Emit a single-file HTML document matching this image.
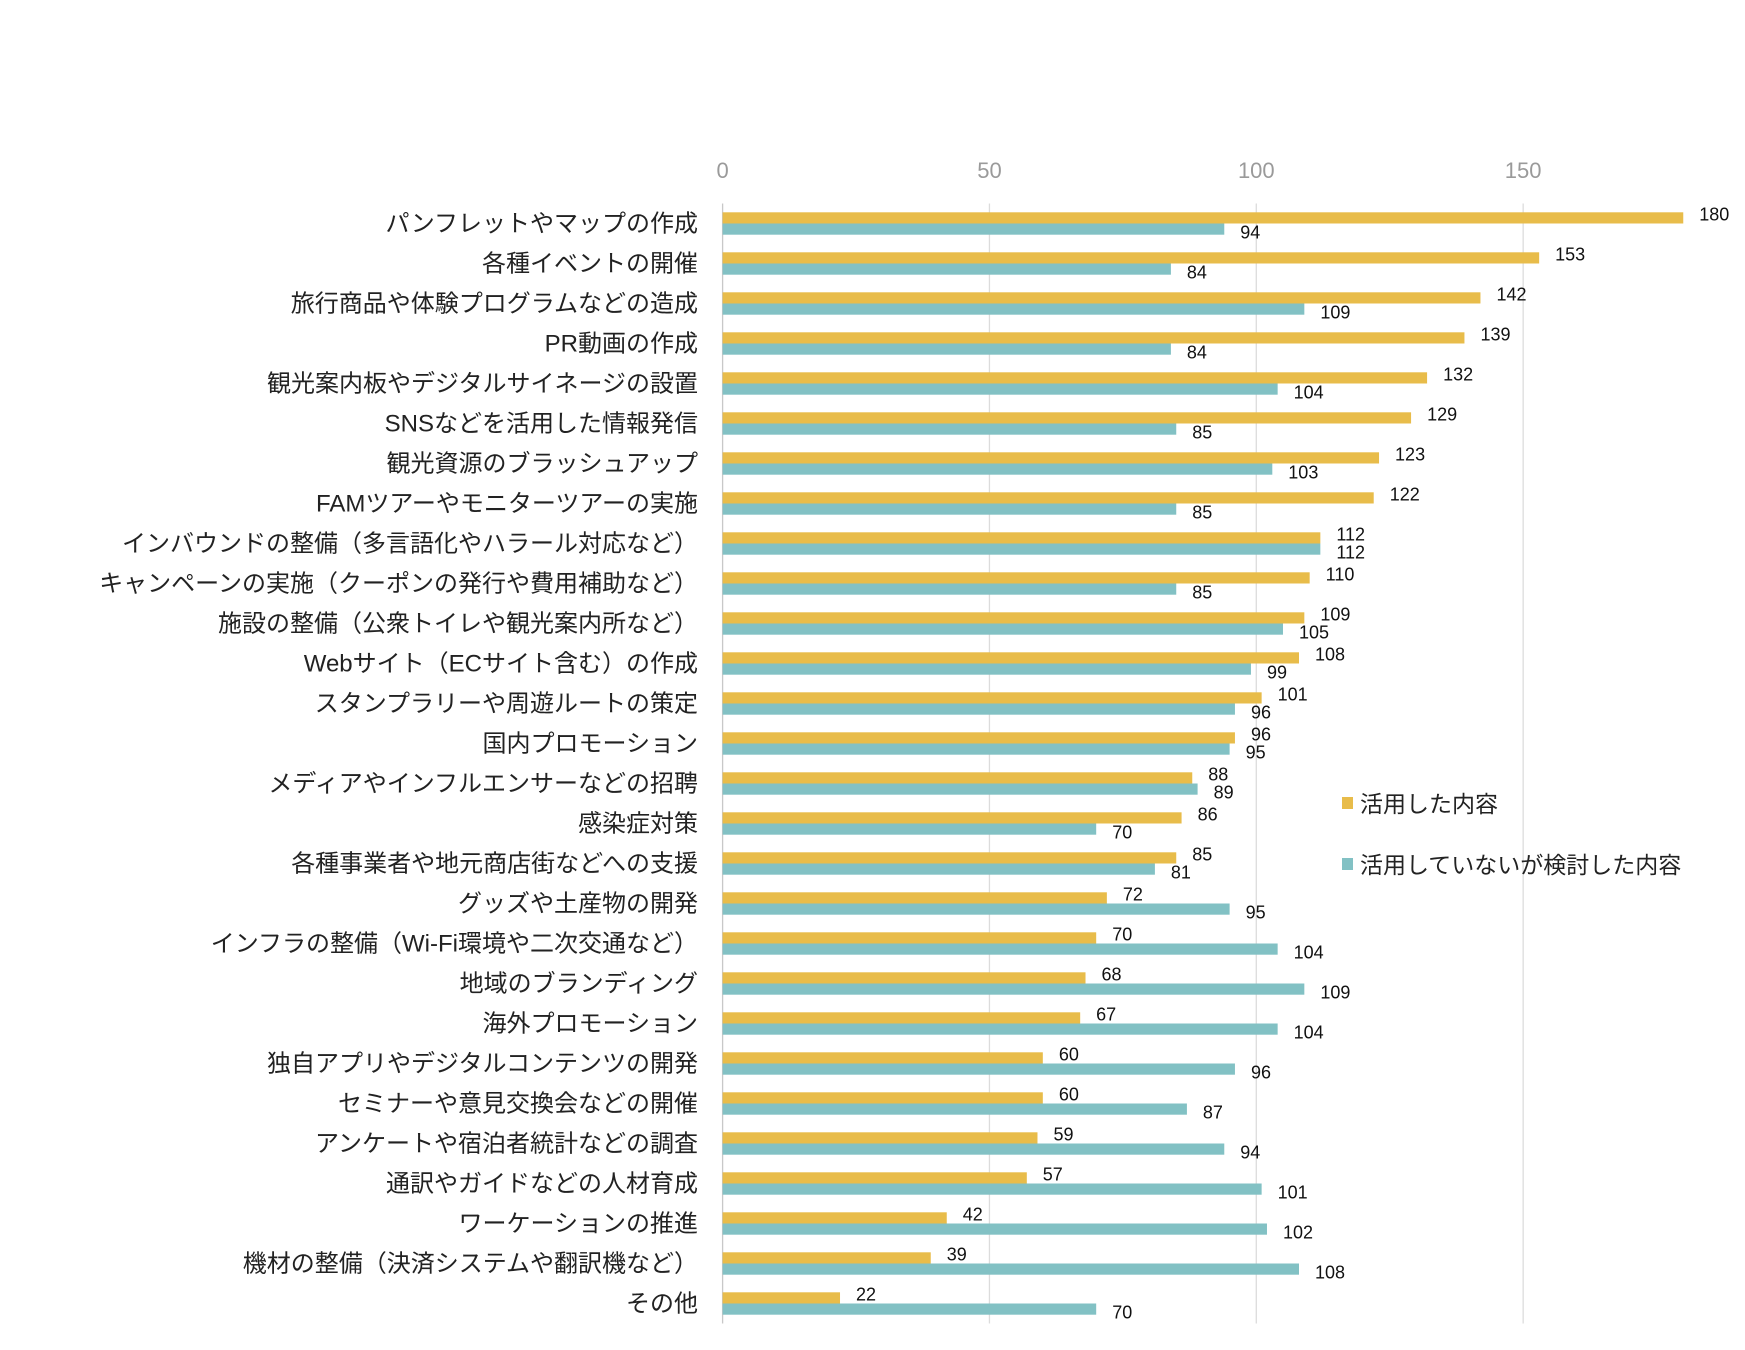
<!DOCTYPE html>
<html><head><meta charset="utf-8">
<style>
html,body{margin:0;padding:0;background:#fff;}
svg{display:block;font-family:"Liberation Sans","Noto Sans CJK JP",sans-serif;}
</style></head>
<body>
<svg id="chart" width="1745" height="1350" viewBox="0 0 1745 1350" xmlns="http://www.w3.org/2000/svg">
<rect width="1745" height="1350" fill="#fff"/>
<g id="grid"></g>
<g id="xticks"></g>
<g id="bars"></g>
<g id="cats"></g>
<g>
  <g>
    <rect x="1342" y="797" width="11" height="12" fill="#E8BC4A"/>
    <text x="1360" y="812" font-size="23" fill="#222">活用した内容</text>
  </g>
  <g>
    <rect x="1342" y="858" width="11" height="12" fill="#82C1C4"/>
    <text x="1360" y="873" font-size="23" fill="#222">活用していないが検討した内容</text>
  </g>
</g>
</svg>
<script>
const categories = ["パンフレットやマップの作成","各種イベントの開催","旅行商品や体験プログラムなどの造成","PR動画の作成","観光案内板やデジタルサイネージの設置","SNSなどを活用した情報発信","観光資源のブラッシュアップ","FAMツアーやモニターツアーの実施","インバウンドの整備（多言語化やハラール対応など）","キャンペーンの実施（クーポンの発行や費用補助など）","施設の整備（公衆トイレや観光案内所など）","Webサイト（ECサイト含む）の作成","スタンプラリーや周遊ルートの策定","国内プロモーション","メディアやインフルエンサーなどの招聘","感染症対策","各種事業者や地元商店街などへの支援","グッズや土産物の開発","インフラの整備（Wi-Fi環境や二次交通など）","地域のブランディング","海外プロモーション","独自アプリやデジタルコンテンツの開発","セミナーや意見交換会などの開催","アンケートや宿泊者統計などの調査","通訳やガイドなどの人材育成","ワーケーションの推進","機材の整備（決済システムや翻訳機など）","その他"];
const usedValues = [180,153,142,139,132,129,123,122,112,110,109,108,101,96,88,86,85,72,70,68,67,60,60,59,57,42,39,22];
const consideredValues = [94,84,109,84,104,85,103,85,112,85,105,99,96,95,89,70,81,95,104,109,104,96,87,94,101,102,108,70];
const tickValues = [0,50,100,150];

const NS="http://www.w3.org/2000/svg";
const x0=722.6, ppu=5.337, rowTop=203.5, rowH=40.0, barH=11.2;
function xScale(v){return x0+v*ppu;}
function yCenter(i){return rowTop+rowH*(i+0.5);}
function mk(tag,attrs,parent){const e=document.createElementNS(NS,tag);for(const k in attrs)e.setAttribute(k,attrs[k]);parent.appendChild(e);return e;}
const grid=document.getElementById('grid'),xt=document.getElementById('xticks'),bars=document.getElementById('bars'),cats=document.getElementById('cats');
const bottom=rowTop+rowH*categories.length;
tickValues.forEach(t=>{
  const l=mk('line',{x1:xScale(t),x2:xScale(t),y1:rowTop,y2:bottom,stroke:t===0?'#c8c8c8':'#dcdcdc','stroke-width':1.3},grid);
  
  
  const tx=mk('text',{x:xScale(t),y:178,'font-size':22,fill:'#9a9a9a','text-anchor':'middle'},xt);
  tx.textContent=t;
  
  
});
categories.forEach((c,i)=>{
  const cy=yCenter(i);
  const lb=mk('text',{x:698,y:cy+8,'font-size':24,fill:'#222','text-anchor':'end'},cats);
  lb.textContent=c;
  
  
  const b1=mk('rect',{x:x0,y:cy-barH,width:usedValues[i]*ppu,height:barH,fill:'#E8BC4A'},bars);
  
  
  const b2=mk('rect',{x:x0,y:cy,width:consideredValues[i]*ppu,height:barH,fill:'#82C1C4'},bars);
  
  
  const v1=mk('text',{x:xScale(usedValues[i])+16,y:cy-3,'font-size':18,fill:'#111'},bars);
  v1.textContent=usedValues[i];
  
  
  const v2=mk('text',{x:xScale(consideredValues[i])+16,y:cy+15,'font-size':18,fill:'#111'},bars);
  v2.textContent=consideredValues[i];
  
  
});
</script>
</body></html>
